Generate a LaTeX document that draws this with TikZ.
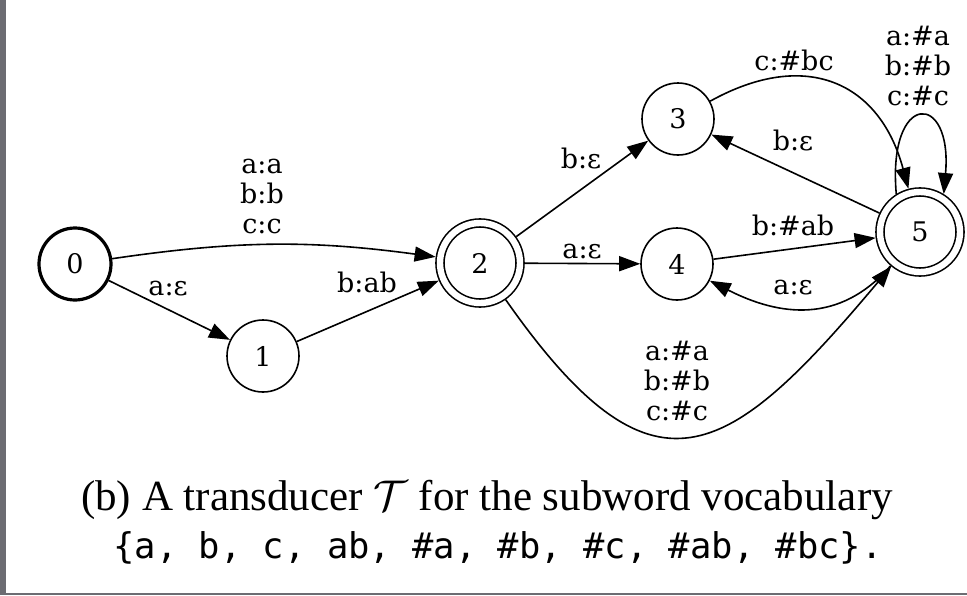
\RequirePackage{fix-cm}
\documentclass[tikz,border=0pt]{standalone}
\usepackage{fontspec}
\setmainfont{Liberation Serif}
\newfontfamily\graphfont{DejaVu Serif}
\newfontfamily\vocabfont{DejaVu Sans Mono}
\usepackage{tikz}
\usetikzlibrary{arrows.meta}
\definecolor{framegray}{RGB}{108,108,114}
\tikzset{state/.style={circle, draw, line width=1.6pt, minimum size=72pt, inner sep=0pt, font=\graphfont\fontsize{27}{30}\selectfont},
start/.style={state, line width=3.2pt},
final/.style={state, double, double distance=6.4pt, minimum size=80pt, outer sep=4.8pt},
trans/.style={line width=1.6pt, -{Triangle[length=21pt, width=15pt]}},
lbl/.style={font=\graphfont\fontsize{27}{30}\selectfont, align=center, inner sep=0pt}}

\begin{document}
\begin{tikzpicture}[x=1pt, y=1pt]
        \useasboundingbox (0,0) rectangle (967,-595);
        \fill[framegray] (0,0) rectangle (6,-595);
        \fill[framegray] (0,-593.4) rectangle (967,-595);

        \node[start] (q0) at (75,-264) {0};
        \node[state] (q1) at (263,-356) {1};
        \node[final] (q2) at (480,-263) {2};
        \node[state] (q3) at (678,-119) {3};
        \node[state] (q4) at (677,-264) {4};
        \node[final] (q5) at (920,-232) {5};

        \draw[trans] (q0) to[bend left=8] (q2);
        \draw[trans] (q0) -- (q1);
        \draw[trans] (q1) -- (q2);
        \draw[trans] (q2) -- (q3);
        \draw[trans] (q2) -- (q4);
        \draw[trans] (q3) to[out=29, in=105, looseness=1.3] (q5);
        \draw[trans] (q5) -- (q3);
        \draw[trans] (q4) -- (q5);
        \draw[trans] (q5) to[out=229, in=-27, looseness=1.1] (q4);
        \draw[trans] (q2) to[out=-55, in=230, looseness=1.7] (q5);
        \draw[trans] (q5.122) to[out=95, in=85, looseness=5.6] (q5.58);

        \node[lbl] (l02) at (262,-196) {a:a\\b:b\\c:c};
        \node[lbl, anchor=base] (l01) at (168,-295) {a:ε};
        \node[lbl, anchor=base] (l12) at (367,-292) {b:ab};
        \node[lbl, anchor=base] (l23) at (581,-168) {b:ε};
        \node[lbl, anchor=base] (l24) at (582,-258) {a:ε};
        \node[lbl, anchor=base] (l35) at (794,-70) {c:\#bc};
        \node[lbl, anchor=base] (l53) at (793,-150) {b:ε};
        \node[lbl, anchor=base] (l45) at (793,-235) {b:\#ab};
        \node[lbl, anchor=base] (l54) at (793,-294) {a:ε};
        \node[lbl] (l55) at (918,-66) {a:\#a\\b:\#b\\c:\#c};
        \node[lbl] (l25) at (677,-381) {a:\#a\\b:\#b\\c:\#c};

        \node[anchor=base, font=\fontsize{43}{50}\selectfont] (cap1) at (487,-510) {(b) A transducer $\mathcal{T}$ for the subword vocabulary};
        \node[anchor=base, font=\vocabfont\fontsize{35.5}{44}\selectfont] (cap2) at (498,-558) {\{a, b, c, ab, \#a, \#b, \#c, \#ab, \#bc\}.};
\end{tikzpicture}
\end{document}
